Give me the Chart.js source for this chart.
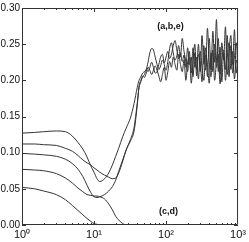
<!DOCTYPE html>
<html>
<head>
<meta charset="utf-8">
<script src="https://cdn.jsdelivr.net/npm/chart.js@4/dist/chart.umd.min.js"></script>
<style>
  html, body { margin: 0; padding: 0; background: #fff; }
  #wrap { width: 249px; height: 242px; }
</style>
</head>
<body>
<div id="wrap"><canvas id="chart"></canvas></div>
<script>
// smooth part, shared x positions
const smoothX = [1, 1.5, 2, 3, 4, 5, 6, 7, 8, 9, 10, 11, 12, 14, 16, 18, 20, 22, 25, 28, 32, 36];
const curveA = [0.127, 0.128, 0.129, 0.130, 0.129, 0.123, 0.114, 0.105, 0.094, 0.082, 0.073, 0.064, 0.060, 0.064, 0.072, 0.083, 0.095, 0.106, 0.122, 0.134, 0.148, 0.168];
const curveB = [0.112, 0.112, 0.111, 0.110, 0.106, 0.102, 0.096, 0.090, 0.086, 0.083, 0.079, 0.076, 0.073, 0.069, 0.066, 0.064, 0.065, 0.072, 0.088, 0.104, 0.118, 0.135];
const curveC = [0.099, 0.098, 0.097, 0.095, 0.091, 0.085, 0.077, 0.067, 0.055, 0.045, 0.039, 0.038, 0.039, 0.042, 0.047, 0.053, 0.062, 0.074, 0.090, 0.104, 0.116, 0.130];
const curveD = [0.077, 0.076, 0.075, 0.071, 0.065, 0.058, 0.051, 0.046, 0.042, 0.041, 0.040, 0.040, 0.039, 0.036, 0.029, 0.021, 0.012, 0.007, 0.002, 0, 0, 0];
const curveE = [0.052, 0.050, 0.047, 0.042, 0.035, 0.027, 0.020, 0.014, 0.009, 0.005, 0.002, 0.001, 0, 0, 0, 0, 0, 0, 0, 0, 0, 0];

// noisy part of (a,b,e)
const noisyX = [39.8, 42.2, 44.7, 47.3, 50.1, 53.1, 56.2, 59.6, 63.1, 66.8, 70.8, 75.0, 79.4, 84.1, 89.1, 94.4,
  100, 105.9, 112.2, 118.9, 125.9, 133.4, 141.3, 149.6, 158.5, 167.9, 177.8, 188.4, 199.5, 211.3, 223.9, 237.1,
  251.2, 266.1, 281.8, 298.5, 316.2, 335.0, 354.8, 375.8, 398.1, 421.7, 446.7, 473.2, 501.2, 530.9, 562.3, 595.7,
  631.0, 668.3, 707.9, 749.9, 794.3, 841.4, 891.3, 944.1, 1000];
const noiseA = [0.190, 0.200, 0.205, 0.210, 0.212, 0.215, 0.225, 0.238, 0.244, 0.242, 0.232, 0.222, 0.215, 0.220, 0.228, 0.224,
  0.232, 0.240, 0.230, 0.236, 0.248, 0.255, 0.242, 0.230, 0.238, 0.226, 0.235, 0.218, 0.245, 0.222, 0.232, 0.205,
  0.238, 0.215, 0.250, 0.212, 0.262, 0.222, 0.245, 0.205, 0.258, 0.215, 0.268, 0.225, 0.284, 0.212, 0.246, 0.198,
  0.238, 0.215, 0.262, 0.205, 0.248, 0.222, 0.270, 0.210, 0.235];
const noiseB = [0.168, 0.190, 0.198, 0.205, 0.208, 0.215, 0.212, 0.218, 0.225, 0.218, 0.210, 0.212, 0.222, 0.232, 0.236, 0.222,
  0.214, 0.226, 0.244, 0.252, 0.238, 0.228, 0.234, 0.248, 0.232, 0.258, 0.240, 0.226, 0.212, 0.240, 0.196, 0.226,
  0.250, 0.206, 0.236, 0.225, 0.198, 0.248, 0.214, 0.272, 0.225, 0.205, 0.242, 0.200, 0.228, 0.258, 0.208, 0.252,
  0.228, 0.274, 0.208, 0.240, 0.262, 0.210, 0.232, 0.252, 0.205];
const noiseC = [0.165, 0.192, 0.200, 0.206, 0.204, 0.210, 0.218, 0.214, 0.208, 0.214, 0.220, 0.214, 0.206, 0.198, 0.208, 0.218,
  0.200, 0.212, 0.226, 0.218, 0.232, 0.222, 0.214, 0.236, 0.222, 0.212, 0.228, 0.200, 0.225, 0.232, 0.210, 0.245,
  0.218, 0.232, 0.202, 0.240, 0.218, 0.200, 0.235, 0.222, 0.196, 0.238, 0.212, 0.250, 0.218, 0.236, 0.195, 0.228,
  0.242, 0.200, 0.232, 0.252, 0.215, 0.240, 0.202, 0.228, 0.218];

const xTicks = [1, 10, 100, 1000];
const yTicks = [0, 0.05, 0.10, 0.15, 0.20, 0.25, 0.30];
const noteText = ['(a,b,e)', '(c,d)'];
const noteX = [115, 108];
const noteY = [0.274, 0.019];

const sup = { 0: '\u2070', 1: '\u00B9', 2: '\u00B2', 3: '\u00B3' };

function toPoints(xs, ys) {
  return ys.map((v, i) => ({ x: xs[i], y: v }));
}

function makeSet(points) {
  return {
    data: points,
    borderColor: '#333',
    borderWidth: 1,
    pointRadius: 0,
    fill: false,
    cubicInterpolationMode: 'monotone'
  };
}

// frame, inward ticks and the two notes
const framePlugin = {
  id: 'frame',
  afterDatasetsDraw(chart) {
    const { ctx, chartArea: a, scales: { x, y } } = chart;
    ctx.save();
    ctx.strokeStyle = '#333';
    ctx.lineWidth = 1;
    ctx.beginPath();
    ctx.rect(a.left + 0.5, a.top + 0.5, a.right - a.left - 1, a.bottom - a.top - 1);
    for (let d = 1; d < 1000; d *= 10) {
      for (let m = 1; m < 10; m++) {
        const px = Math.round(x.getPixelForValue(d * m)) + 0.5;
        const len = m === 1 ? 4 : 2;
        ctx.moveTo(px, a.bottom); ctx.lineTo(px, a.bottom - len);
        ctx.moveTo(px, a.top); ctx.lineTo(px, a.top + len);
      }
    }
    yTicks.forEach(v => {
      const py = Math.round(y.getPixelForValue(v)) + 0.5;
      ctx.moveTo(a.left, py); ctx.lineTo(a.left + 4, py);
      ctx.moveTo(a.right, py); ctx.lineTo(a.right - 4, py);
    });
    ctx.stroke();

    ctx.fillStyle = '#111';
    ctx.font = 'bold 9px "Liberation Sans", Arial, sans-serif';
    ctx.textAlign = 'center';
    ctx.textBaseline = 'middle';
    noteText.forEach((t, i) => {
      ctx.fillText(t, x.getPixelForValue(noteX[i]), y.getPixelForValue(noteY[i]));
    });
    ctx.restore();
  }
};

new Chart(document.getElementById('chart'), {
  type: 'line',
  data: {
    datasets: [
      makeSet(toPoints(smoothX, curveA).concat(toPoints(noisyX, noiseA))),
      makeSet(toPoints(smoothX, curveB).concat(toPoints(noisyX, noiseB))),
      makeSet(toPoints(smoothX, curveC).concat(toPoints(noisyX, noiseC))),
      makeSet(toPoints(smoothX, curveD)),
      makeSet(toPoints(smoothX, curveE))
    ]
  },
  options: {
    responsive: true,
    maintainAspectRatio: false,
    devicePixelRatio: 1,
    animation: false,
    layout: { padding: { top: 6, right: 10, left: 0, bottom: 0 } },
    plugins: { legend: { display: false }, tooltip: { enabled: false } },
    scales: {
      x: {
        type: 'logarithmic',
        min: 1,
        max: 1000,
        grid: { display: false, drawTicks: false },
        border: { display: false },
        afterBuildTicks: s => { s.ticks = xTicks.map(v => ({ value: v })); },
        afterFit: s => { s.height = 17; },
        ticks: {
          autoSkip: false,
          maxRotation: 0,
          padding: 3,
          color: '#111',
          font: { family: '"Liberation Sans", Arial, sans-serif', size: 11 },
          callback: v => '10' + sup[Math.round(Math.log10(v))]
        }
      },
      y: {
        min: 0,
        max: 0.3,
        grid: { display: false, drawTicks: false },
        border: { display: false },
        afterBuildTicks: s => { s.ticks = yTicks.map(v => ({ value: v })); },
        afterFit: s => { s.width = 22; },
        ticks: {
          padding: 2,
          color: '#111',
          font: { family: '"Liberation Sans", Arial, sans-serif', size: 10 },
          callback: v => v.toFixed(2)
        }
      }
    }
  },
  plugins: [framePlugin]
});
</script>
</body>
</html>
